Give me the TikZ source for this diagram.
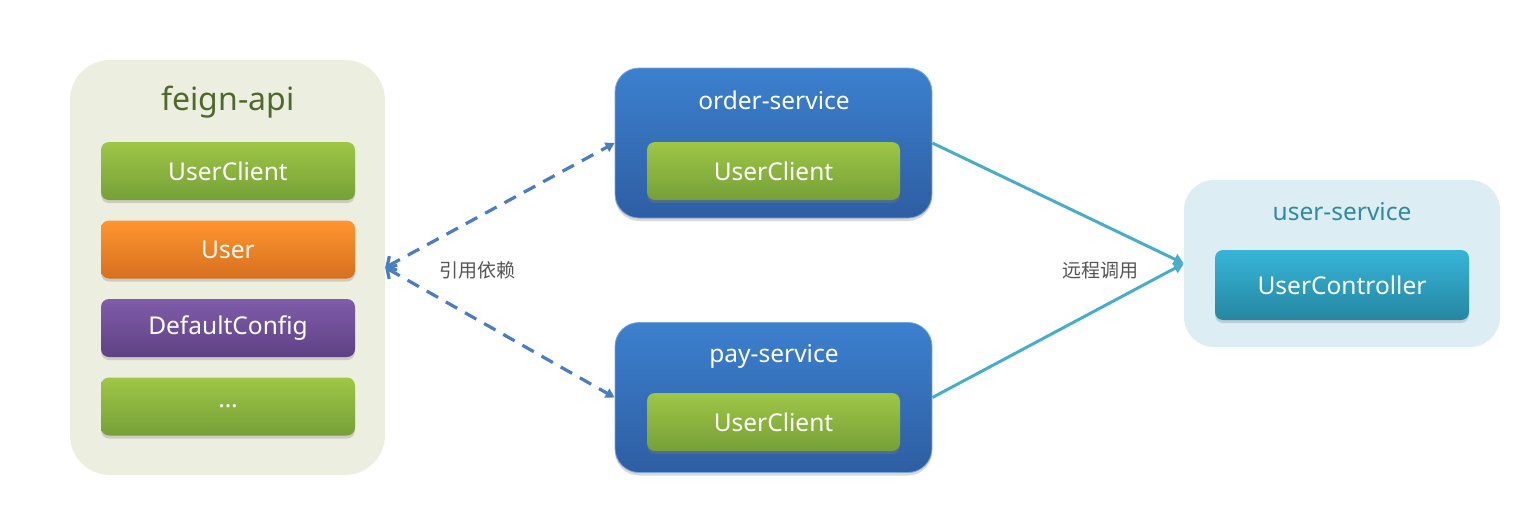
\documentclass[tikz,border=0pt]{standalone}
\usepackage{fontspec}
\setmainfont{Noto Sans}
\newfontfamily\cjk{Noto Sans CJK SC}
\usetikzlibrary{arrows.meta,shadows}
\definecolor{feignbg}{RGB}{236,239,223}
\definecolor{feigntxt}{RGB}{80,104,44}
\definecolor{greenA}{RGB}{158,198,70}
\definecolor{greenB}{RGB}{118,160,56}
\definecolor{orangeA}{RGB}{255,149,48}
\definecolor{orangeB}{RGB}{214,112,30}
\definecolor{purpleA}{RGB}{128,92,170}
\definecolor{purpleB}{RGB}{94,65,132}
\definecolor{blueA}{RGB}{60,128,206}
\definecolor{blueB}{RGB}{46,94,163}
\definecolor{userbg}{RGB}{220,238,244}
\definecolor{usertxt}{RGB}{46,138,160}
\definecolor{tealA}{RGB}{55,180,216}
\definecolor{tealB}{RGB}{37,135,162}
\definecolor{depline}{RGB}{74,125,194}
\definecolor{callline}{RGB}{72,173,199}
\definecolor{lbltxt}{RGB}{85,85,85}
\begin{document}
\begin{tikzpicture}
  [x=1pt,y=-1pt,
   every node/.style={inner sep=0pt,font=\fontsize{24.5}{28}\selectfont,text=white},
   panel/.style={rounded corners=40pt},
   svcbox/.style={rounded corners=24pt,minimum width=317pt,minimum height=150pt,
     top color=blueA,bottom color=blueB,draw=blueA!70!white,line width=0.8pt,
     drop shadow={opacity=.3,shadow xshift=0pt,shadow yshift=-3pt}},
   item/.style={rounded corners=8pt,minimum width=254pt,minimum height=58pt,
     drop shadow={opacity=.3,shadow xshift=0pt,shadow yshift=-3pt}},
   lbl/.style={font=\cjk\fontsize{19}{22}\selectfont,text=lbltxt},
   dep/.style={depline,line width=3.2pt,dash pattern=on 13pt off 9pt,
     arrows={Straight Barb[length=7pt,width=16pt,line width=3.2pt]-Triangle[length=9pt,width=10pt]}},
   call/.style={callline,line width=3pt,-{Triangle[length=10pt,width=11pt]}}]
  \useasboundingbox (0,0) rectangle (1540,528);

  % feign-api
  \node[panel,fill=feignbg,minimum width=315pt,minimum height=415pt] (feign) at (227.5,267.5) {};
  \node[text=feigntxt,font=\fontsize{32}{36}\selectfont] (feignt) at (228,102) {feign-api};
  \foreach \name/\y/\ca/\cb/\txt in {uc/171/greenA/greenB/UserClient,
      user/249.5/orangeA/orangeB/User, cfg/328/purpleA/purpleB/DefaultConfig,
      more/406.5/greenA/greenB/\ldots}
    \node[item,top color=\ca,bottom color=\cb] (\name) at (228,\y) {\txt};

  % order-service / pay-service
  \node[svcbox] (order) at (773.5,143) {};
  \node (ordert) at (774,100) {order-service};
  \node[item,top color=greenA,bottom color=greenB,minimum width=253pt] (orderuc) at (773.5,171) {UserClient};
  \node[svcbox] (pay) at (773.5,397.5) {};
  \node (payt) at (774,356) {pay-service};
  \node[item,top color=greenA,bottom color=greenB,minimum width=253pt] (payuc) at (773.5,422) {UserClient};

  % user-service
  \node[panel,rounded corners=30pt,fill=userbg,minimum width=316pt,minimum height=167pt] (usersvc) at (1342,263.5) {};
  \node[text=usertxt] (usert) at (1342,212) {user-service};
  \node[item,top color=tealA,bottom color=tealB,minimum height=70pt] (ctrl) at (1342,285) {UserController};

  \draw[dep] (feign.east) -- (order.west);
  \draw[dep] (feign.east) -- (pay.west);
  \node[lbl] (deplbl) at (477,270) {引用依赖};

  \draw[call] (order.east) -- (usersvc.west);
  \draw[call] (pay.east) -- (usersvc.west);
  \node[lbl] (calllbl) at (1100,270) {远程调用};

\end{tikzpicture}
\end{document}
